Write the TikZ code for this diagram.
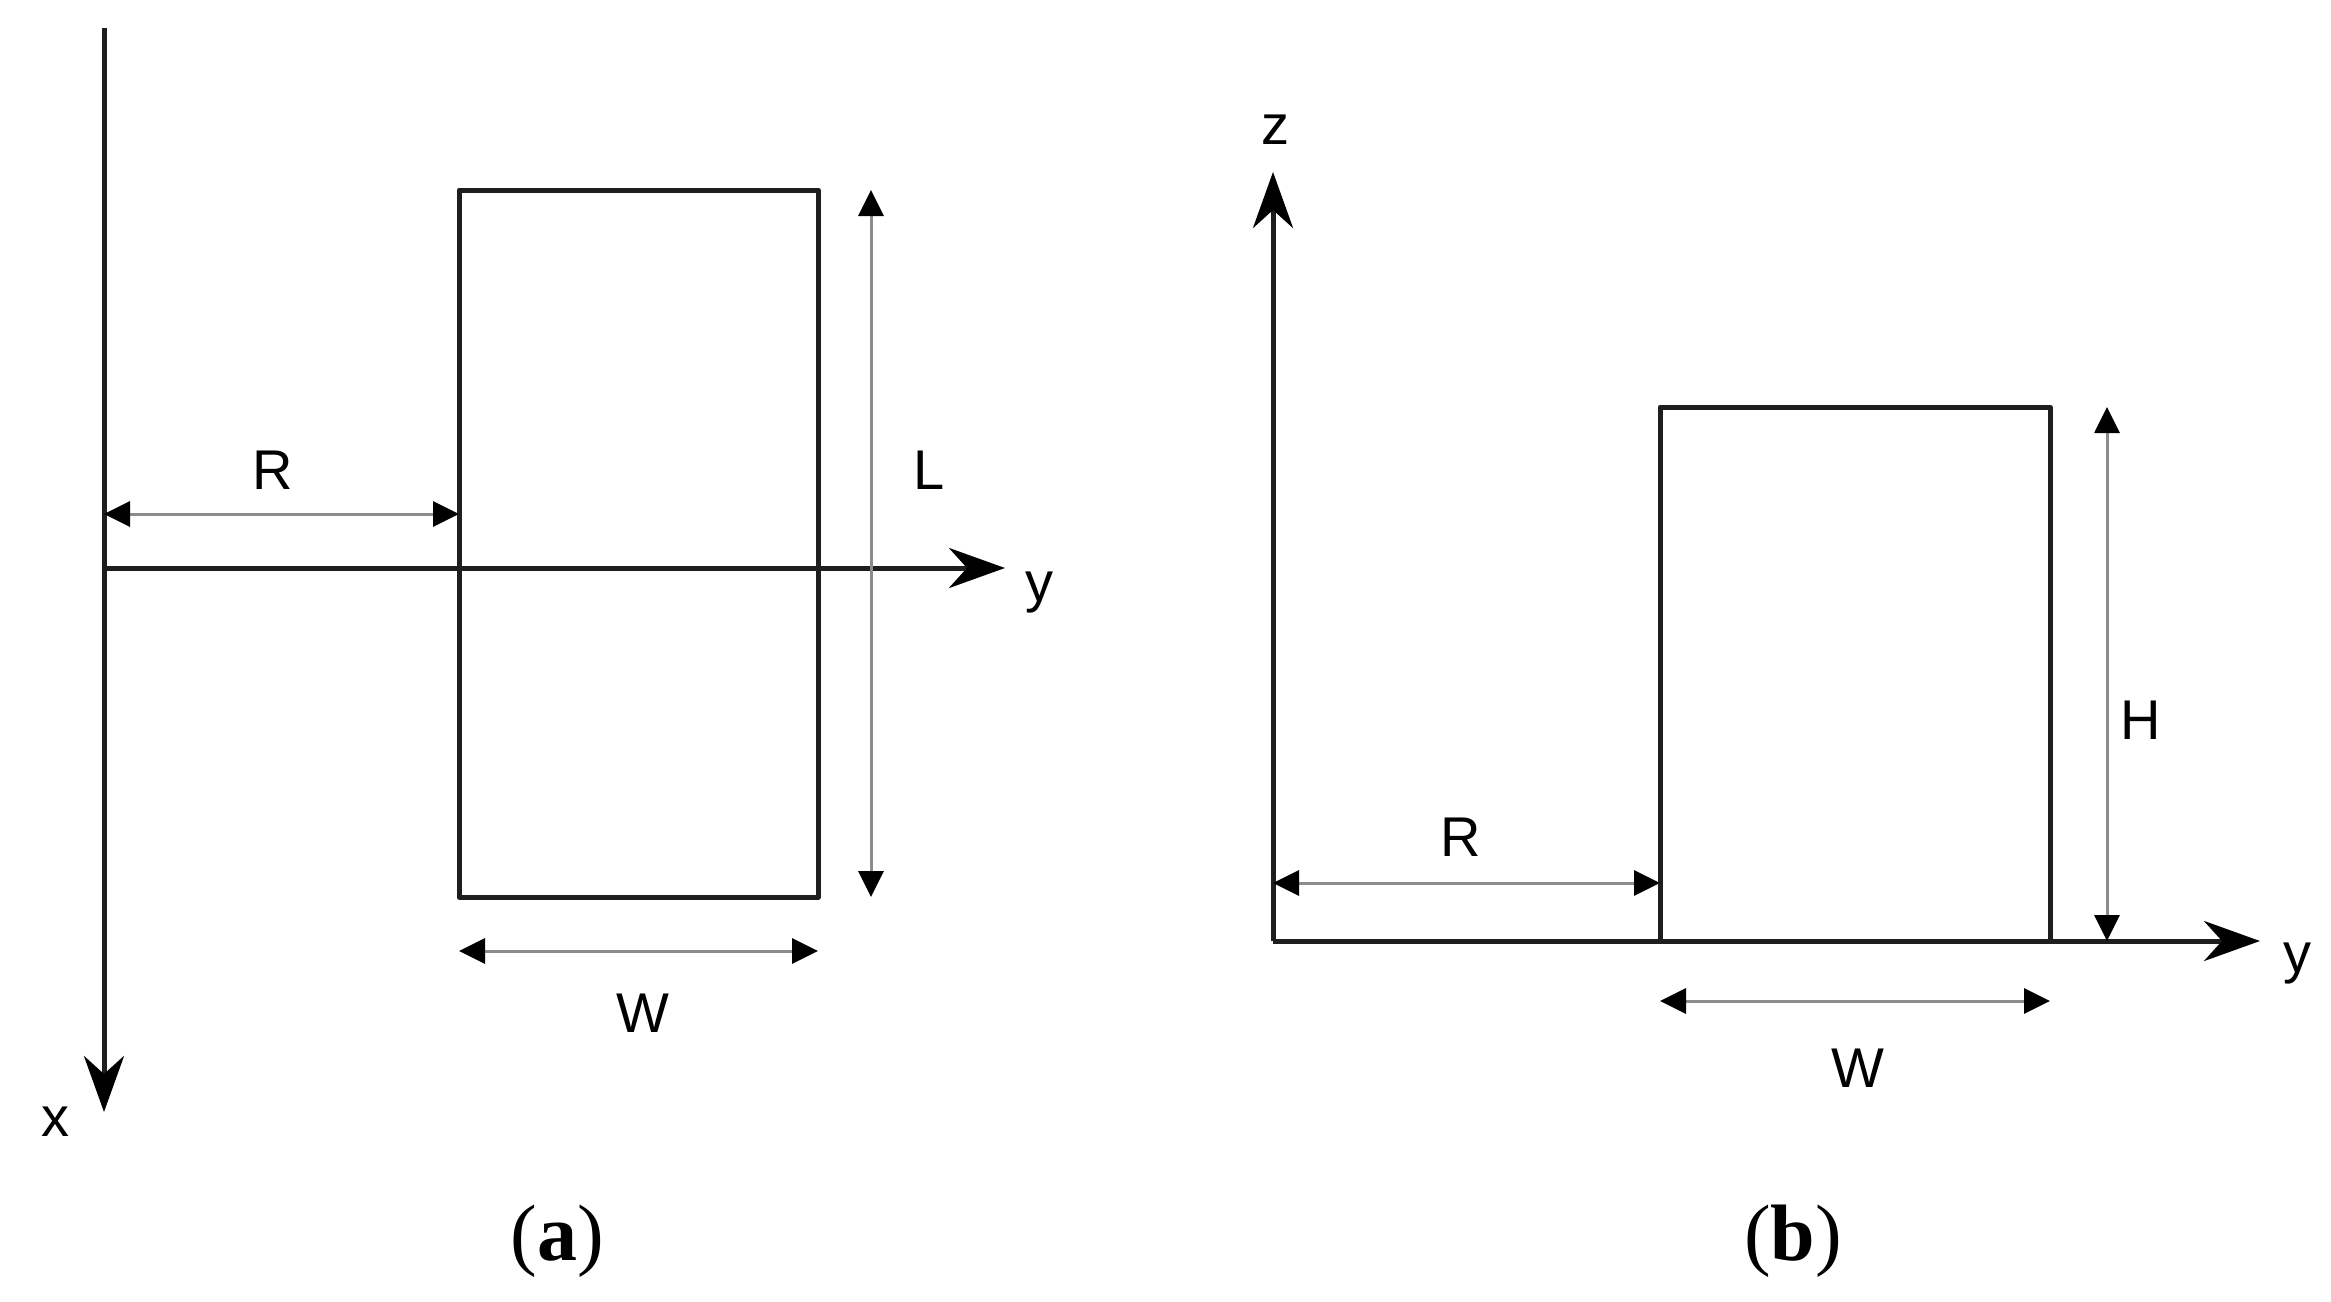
\documentclass[tikz,border=0pt]{standalone}
\usepackage{fontspec}
\setmainfont{Liberation Serif}
\newfontfamily\labfont{Liberation Sans}
\usetikzlibrary{arrows.meta}
\definecolor{dimgray}{RGB}{140,140,140}
\definecolor{linecol}{RGB}{30,30,30}
\tikzset{
  axisline/.style={draw=linecol, line width=5pt, -{Stealth[length=56pt,width=40pt,inset=18pt,color=black]}},
  body/.style={draw=linecol, line width=5pt, line join=round},
  dimline/.style={draw=dimgray, line width=3pt, {Triangle[length=26pt,width=25pt,color=black]}-{Triangle[length=26pt,width=25pt,color=black]}},
  lab/.style={inner sep=0pt, font=\labfont\fontsize{56}{64}\selectfont},
  capt/.style={inner sep=0pt, font=\fontsize{80}{90}\selectfont}
}
\begin{document}
\begin{tikzpicture}[x=1pt,y=-1pt]
\useasboundingbox (0,0) rectangle (2331,1301);
% ---------- panel (a) ----------
\coordinate (aO) at (104,568);
\coordinate (aXtop) at (104,28);
\coordinate (aXend) at (104,1112);
\coordinate (aYend) at (1005,568);
\coordinate (aR1) at (459,190);
\coordinate (aR2) at (818,897);
\coordinate (aRd1) at (104,514);
\coordinate (aRd2) at (459,514);
\coordinate (aLd1) at (871,190);
\coordinate (aLd2) at (871,897);
\coordinate (aWd1) at (459,951);
\coordinate (aWd2) at (818,951);
\draw[body] (aR1) rectangle (aR2);
\draw[axisline] (aXtop) -- (aXend);
\draw[axisline] (aO) -- (aYend);
\draw[dimline] (aRd1) -- (aRd2);
\draw[dimline] (aLd1) -- (aLd2);
\draw[dimline] (aWd1) -- (aWd2);
\node[lab] (axlab) at (55,1122) {x};
\node[lab] (aylab) at (1039,593) {y};
\node[lab] (aRlab) at (273,470) {R};
\node[lab] (aLlab) at (929,470) {L};
\node[lab] (aWlab) at (643,1013) {W};
\node[capt] (acap) at (557,1241) {(\textbf{a})};
% ---------- panel (b) ----------
\coordinate (bO) at (1273,941);
\coordinate (bZend) at (1273,172);
\coordinate (bYend) at (2260,941);
\coordinate (bR1) at (1660,407);
\coordinate (bR2) at (2050,941);
\coordinate (bRd1) at (1273,883);
\coordinate (bRd2) at (1660,883);
\coordinate (bHd1) at (2107,407);
\coordinate (bHd2) at (2107,941);
\coordinate (bWd1) at (1660,1001);
\coordinate (bWd2) at (2050,1001);
\draw[body] (bR1) rectangle (bR2);
\draw[axisline] (bO) -- (bZend);
\draw[axisline] (bO) -- (bYend);
\draw[dimline] (bRd1) -- (bRd2);
\draw[dimline] (bHd1) -- (bHd2);
\draw[dimline] (bWd1) -- (bWd2);
\node[lab] (bzlab) at (1275,130) {z};
\node[lab] (bylab) at (2297,964) {y};
\node[lab] (bRlab) at (1461,837) {R};
\node[lab] (bHlab) at (2141,720) {H};
\node[lab] (bWlab) at (1858,1068) {W};
\node[capt] (bcap) at (1793,1241) {(\textbf{b})};
\end{tikzpicture}
\end{document}
